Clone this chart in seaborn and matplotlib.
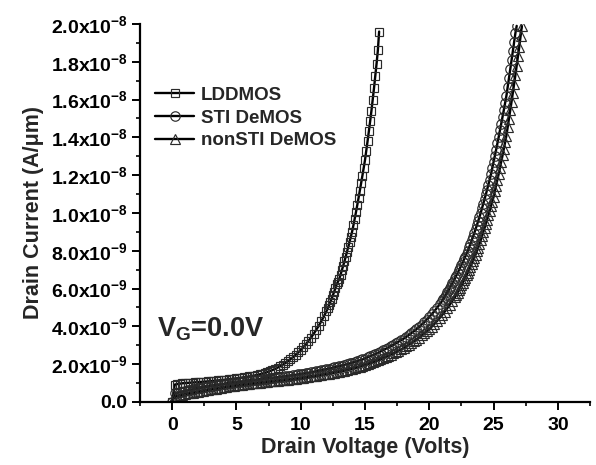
import numpy as np
import pandas as pd
import matplotlib
matplotlib.use("Agg")
import matplotlib.pyplot as plt
from matplotlib.ticker import MultipleLocator
import seaborn as sns

# ---- measured off-state drain current, V_G = 0 V (units of 1e-9 A/um) ----
# drain-voltage sweeps: 0.2 V steps in the low-leakage part, 0.1 V steps near breakdown
lddmos_v = np.concatenate([np.linspace(0, 12, 61), np.linspace(12.1, 16.1, 41)])
lddmos_i = [
    0.02, 0.92, 0.95, 0.97, 0.99, 1.00, 1.01, 1.02, 1.03, 1.04,
    1.05, 1.06, 1.07, 1.08, 1.09, 1.10, 1.11, 1.13, 1.14, 1.16,
    1.17, 1.19, 1.20, 1.22, 1.23, 1.25, 1.27, 1.29, 1.31, 1.33,
    1.35, 1.38, 1.40, 1.43, 1.46, 1.50, 1.54, 1.59, 1.64, 1.69,
    1.75, 1.82, 1.89, 1.97, 2.06, 2.15, 2.26, 2.37, 2.49, 2.62,
    2.75, 2.90, 3.06, 3.23, 3.41, 3.60, 3.81, 4.03, 4.27, 4.53,
    4.80,
    4.96, 5.12, 5.29, 5.46, 5.64, 5.83, 6.03, 6.23, 6.37, 6.52,
    6.74, 6.97, 7.20, 7.44, 7.69, 7.95, 8.21, 8.48, 8.75, 9.02,
    9.35, 9.70, 10.05, 10.42, 10.80, 11.19, 11.58, 11.98, 12.39, 12.80,
    13.30, 13.80, 14.32, 14.85, 15.40, 16.00, 16.60, 17.25, 17.90, 18.60,
    19.60,
]

sti_v = np.concatenate([np.linspace(0, 21, 106), np.linspace(21.1, 26.8, 58)])
sti_i = [
    0.02, 0.45, 0.49, 0.52, 0.55, 0.58, 0.61, 0.64, 0.67, 0.69,
    0.72, 0.74, 0.77, 0.79, 0.82, 0.84, 0.86, 0.88, 0.91, 0.93,
    0.95, 0.97, 0.99, 1.01, 1.03, 1.05, 1.07, 1.08, 1.10, 1.11,
    1.13, 1.15, 1.16, 1.18, 1.19, 1.21, 1.23, 1.24, 1.26, 1.27,
    1.29, 1.31, 1.33, 1.34, 1.36, 1.38, 1.40, 1.42, 1.44, 1.46,
    1.48, 1.50, 1.53, 1.55, 1.58, 1.60, 1.63, 1.66, 1.68, 1.71,
    1.74, 1.77, 1.80, 1.84, 1.87, 1.90, 1.93, 1.97, 2.00, 2.04,
    2.08, 2.12, 2.16, 2.21, 2.25, 2.30, 2.36, 2.42, 2.48, 2.54,
    2.60, 2.67, 2.74, 2.81, 2.88, 2.95, 3.03, 3.11, 3.19, 3.27,
    3.35, 3.44, 3.54, 3.64, 3.74, 3.85, 3.97, 4.09, 4.22, 4.36,
    4.50, 4.65, 4.81, 4.98, 5.16, 5.35,
    5.46, 5.57, 5.68, 5.80, 5.92, 6.04, 6.16, 6.29, 6.42, 6.55,
    6.68, 6.82, 6.96, 7.10, 7.24, 7.39, 7.54, 7.69, 7.84, 8.00,
    8.18, 8.36, 8.55, 8.74, 8.94, 9.14, 9.35, 9.56, 9.78, 10.00,
    10.24, 10.48, 10.73, 10.98, 11.24, 11.50, 11.77, 12.05, 12.37, 12.70,
    13.02, 13.35, 13.68, 14.02, 14.37, 14.72, 15.08, 15.45, 15.82, 16.20,
    16.66, 17.13, 17.60, 18.08, 18.56, 19.04, 19.52, 19.90,
]

nonsti_v = np.concatenate([np.linspace(0, 22, 111), np.linspace(22.1, 27.2, 52)])
nonsti_i = [
    0.02, 0.30, 0.33, 0.36, 0.39, 0.42, 0.45, 0.47, 0.50, 0.52,
    0.55, 0.57, 0.60, 0.62, 0.65, 0.67, 0.69, 0.71, 0.74, 0.76,
    0.78, 0.80, 0.82, 0.84, 0.86, 0.88, 0.90, 0.91, 0.93, 0.94,
    0.96, 0.98, 0.99, 1.01, 1.02, 1.04, 1.06, 1.07, 1.09, 1.10,
    1.12, 1.13, 1.15, 1.16, 1.18, 1.19, 1.21, 1.22, 1.24, 1.25,
    1.27, 1.29, 1.31, 1.33, 1.35, 1.37, 1.39, 1.41, 1.43, 1.46,
    1.48, 1.50, 1.53, 1.55, 1.58, 1.60, 1.63, 1.66, 1.69, 1.72,
    1.75, 1.79, 1.83, 1.87, 1.91, 1.95, 2.00, 2.05, 2.10, 2.15,
    2.20, 2.26, 2.32, 2.38, 2.44, 2.50, 2.57, 2.64, 2.71, 2.78,
    2.85, 2.94, 3.03, 3.12, 3.21, 3.30, 3.41, 3.52, 3.63, 3.74,
    3.85, 3.99, 4.13, 4.28, 4.44, 4.60, 4.78, 4.96, 5.15, 5.35,
    5.55,
    5.67, 5.79, 5.92, 6.05, 6.18, 6.31, 6.44, 6.57, 6.71, 6.85,
    7.00, 7.15, 7.31, 7.47, 7.63, 7.80, 7.97, 8.15, 8.35, 8.55,
    8.76, 8.98, 9.20, 9.42, 9.65, 9.88, 10.12, 10.36, 10.60, 10.85,
    11.15, 11.45, 11.76, 12.07, 12.39, 12.72, 13.05, 13.39, 13.74, 14.10,
    14.54, 14.98, 15.43, 15.89, 16.35, 16.82, 17.30, 17.79, 18.29, 18.80,
    19.34, 19.88,
]

series_names = ["LDDMOS", "STI DeMOS", "nonSTI DeMOS"]
series_markers = ["s", "o", "^"]

x_ticks = [0, 5, 10, 15, 20, 25, 30]
y_ticks = [0, 2e-9, 4e-9, 6e-9, 8e-9, 1e-8, 1.2e-8, 1.4e-8, 1.6e-8, 1.8e-8, 2e-8]
y_tick_labels = ["0.0", "2.0x10$^{-9}$", "4.0x10$^{-9}$", "6.0x10$^{-9}$",
                 "8.0x10$^{-9}$", "1.0x10$^{-8}$", "1.2x10$^{-8}$", "1.4x10$^{-8}$",
                 "1.6x10$^{-8}$", "1.8x10$^{-8}$", "2.0x10$^{-8}$"]

frames = []
for name, v, i in zip(series_names,
                      [lddmos_v, sti_v, nonsti_v],
                      [lddmos_i, sti_i, nonsti_i]):
    if len(v) != len(i):
        raise ValueError(f"{name}: {len(v)} voltages vs {len(i)} currents")
    frames.append(pd.DataFrame({"Vd": v, "Id": np.asarray(i) * 1e-9, "device": name}))
data = pd.concat(frames, ignore_index=True)

sns.set_style("ticks")
plt.rcParams["font.family"] = ["Liberation Sans", "DejaVu Sans"]
plt.rcParams["font.weight"] = "bold"
plt.rcParams["mathtext.fontset"] = "custom"
plt.rcParams["mathtext.rm"] = "Liberation Sans:bold"
plt.rcParams["mathtext.it"] = "Liberation Sans:bold:italic"
plt.rcParams["mathtext.bf"] = "Liberation Sans:bold"
plt.rcParams["mathtext.default"] = "rm"

fig = plt.figure(figsize=(5.96, 4.65), dpi=100)
ax = fig.add_axes([0.2349, 0.1355, 0.755, 0.8129])

marker_sizes = {"s": 6.4, "o": 6.8, "^": 7.4}
for name, mk in zip(series_names, series_markers):
    sns.lineplot(data=data[data["device"] == name], x="Vd", y="Id",
                 ax=ax, sort=False, estimator=None, label=name,
                 color="black", linewidth=1.7, marker=mk,
                 markersize=marker_sizes[mk], markerfacecolor="none",
                 markeredgecolor="#2a2a2a", markeredgewidth=0.85)

ax.set_xlim(-2.5, 32.5)
ax.set_ylim(0, 2.0e-8)
ax.set_xticks(x_ticks)
ax.set_yticks(y_ticks, y_tick_labels)
ax.xaxis.set_minor_locator(MultipleLocator(2.5))
ax.yaxis.set_minor_locator(MultipleLocator(1e-9))

for side in ["top", "right"]:
    ax.spines[side].set_visible(False)
for side in ["left", "bottom"]:
    ax.spines[side].set_linewidth(1.6)
    ax.spines[side].set_color("black")

ax.tick_params(which="major", direction="out", length=6, width=1.4,
               color="black", labelsize=14, labelcolor="black")
ax.tick_params(which="minor", direction="out", length=3.2, width=1.2, color="black")
ax.tick_params(axis="y", which="major", pad=3)
ax.tick_params(axis="x", which="major", pad=5)
for lab in ax.get_xticklabels() + ax.get_yticklabels():
    lab.set_fontweight("bold")

ax.set_xlabel("Drain Voltage (Volts)", fontsize=15.5, fontweight="bold", labelpad=2)
ax.set_ylabel("Drain Current (A/\u03bcm)", fontsize=15.5, fontweight="bold", labelpad=5)

ax.text(0.038, 0.172, "V$_{\\mathrm{G}}$=0.0V", transform=ax.transAxes,
        fontsize=19.5, fontweight="bold", ha="left", va="baseline")

ax.legend(loc="upper left", bbox_to_anchor=(0.033, 0.834), frameon=False,
          prop={"weight": "bold", "size": 13.5}, handlelength=2.1,
          handletextpad=0.37, labelspacing=0.3, borderpad=0, borderaxespad=0)

fig.savefig("out.png", dpi=100)
